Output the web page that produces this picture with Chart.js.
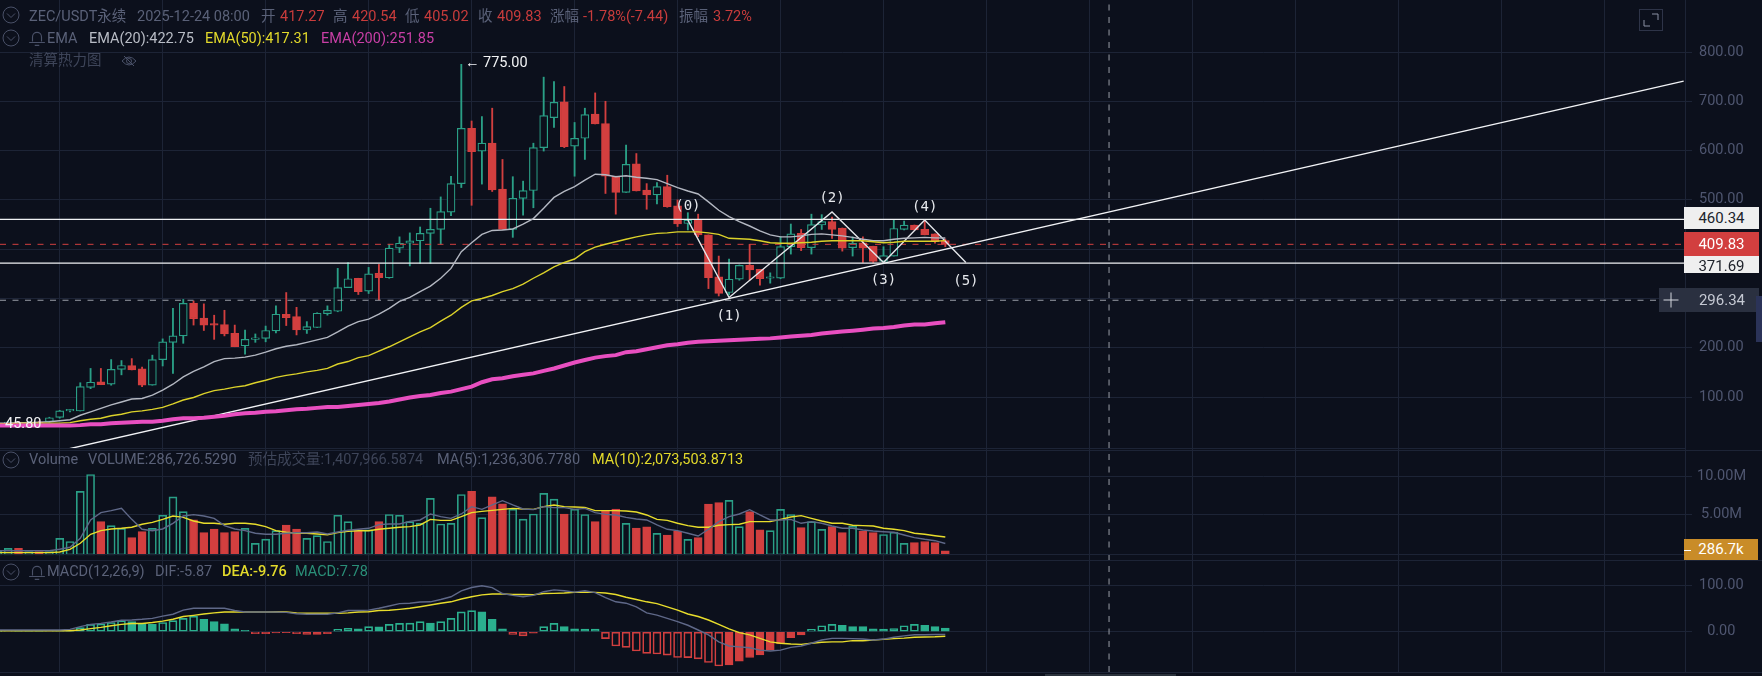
<!DOCTYPE html>
<html>
<head>
<meta charset="utf-8">
<title>ZEC/USDT</title>
<script src="https://cdn.jsdelivr.net/npm/chart.js@4"></script>
<style>
html, body { margin: 0; padding: 0; background: #0c101c; }
body { position: relative; width: 1762px; height: 676px; overflow: hidden; font-family: Roboto, "Noto Sans CJK SC", sans-serif; font-size: 14.5px; }
canvas { position: absolute; left: 0; }
#priceChart { top: 0; }
#volumeChart { top: 448px; }
#macdChart { top: 560px; }
.t { position: absolute; white-space: nowrap; line-height: 18px; color: #5a6178; }
.r { color: #c93c3c; }
.y { color: #e3da2b; }
.box { position: absolute; text-align: center; font-size: 15px; }
.sep { position: absolute; left: 0; height: 1px; background: #1d2436; }
svg { position: absolute; fill: none; stroke: #4a5168; }
</style>
</head>
<body>
<canvas id="priceChart" width="1762" height="448"></canvas>
<canvas id="volumeChart" width="1762" height="112"></canvas>
<canvas id="macdChart" width="1762" height="112"></canvas>

<div class="sep" style="top:448px;width:1685px"></div>
<div class="sep" style="top:450px;width:1762px"></div>
<div class="sep" style="top:554px;width:1690px"></div>
<div class="sep" style="top:560px;width:1762px"></div>
<div class="sep" style="top:672px;width:1762px"></div>
<div style="position:absolute;left:1045px;top:674px;width:131px;height:2px;background:#2b323c"></div>

<svg style="left:2px;top:6px" width="18" height="18" viewBox="0 0 18 18"><circle cx="9" cy="9" r="8"/><path d="M5 7.5 L9 11.5 L13 7.5"/></svg>
<span class="t" style="left:29px;top:8px">ZEC/USDT永续</span>
<span class="t" style="left:137px;top:8px">2025-12-24 08:00</span>
<span class="t" style="left:261px;top:8px">开</span><span class="t r" style="left:280px;top:8px">417.27</span>
<span class="t" style="left:333px;top:8px">高</span><span class="t r" style="left:352px;top:8px">420.54</span>
<span class="t" style="left:405px;top:8px">低</span><span class="t r" style="left:424px;top:8px">405.02</span>
<span class="t" style="left:478px;top:8px">收</span><span class="t r" style="left:497px;top:8px">409.83</span>
<span class="t" style="left:550px;top:8px">涨幅</span><span class="t r" style="left:583px;top:8px">-1.78%(-7.44)</span>
<span class="t" style="left:679px;top:8px">振幅</span><span class="t r" style="left:713px;top:8px">3.72%</span>

<svg style="left:2px;top:29px" width="18" height="18" viewBox="0 0 18 18"><circle cx="9" cy="9" r="8"/><path d="M5 7.5 L9 11.5 L13 7.5"/></svg>
<svg style="left:28px;top:29px" width="18" height="18" viewBox="0 0 16 16"><path d="M4 11 V7 a4 4 0 0 1 8 0 V11 M1 12 H15 M6 14.5 H10"/></svg>
<span class="t" style="left:47px;top:30px">EMA</span>
<span class="t" style="left:89px;top:30px;color:#b9bdc6">EMA(20):422.75</span>
<span class="t y" style="left:205px;top:30px">EMA(50):417.31</span>
<span class="t" style="left:321px;top:30px;color:#c93fa6">EMA(200):251.85</span>
<span class="t" style="left:29px;top:52px;color:#3e4559">清算热力图</span>
<svg style="left:121px;top:54px" width="16" height="14" viewBox="0 0 16 14"><path d="M1 7 Q8 -1 15 7 Q8 15 1 7 Z M3 2 L13 12"/><circle cx="8" cy="7" r="2.5"/></svg>

<svg style="left:2px;top:451px" width="18" height="18" viewBox="0 0 18 18"><circle cx="9" cy="9" r="8"/><path d="M5 7.5 L9 11.5 L13 7.5"/></svg>
<span class="t" style="left:29px;top:451px">Volume</span>
<span class="t" style="left:88px;top:451px">VOLUME:286,726.5290</span>
<span class="t" style="left:248px;top:451px;color:#3e4559">预估成交量:1,407,966.5874</span>
<span class="t" style="left:437px;top:451px">MA(5):1,236,306.7780</span>
<span class="t y" style="left:592px;top:451px">MA(10):2,073,503.8713</span>

<svg style="left:2px;top:563px" width="18" height="18" viewBox="0 0 18 18"><circle cx="9" cy="9" r="8"/><path d="M5 7.5 L9 11.5 L13 7.5"/></svg>
<svg style="left:28px;top:563px" width="18" height="18" viewBox="0 0 16 16"><path d="M4 11 V7 a4 4 0 0 1 8 0 V11 M1 12 H15 M6 14.5 H10"/></svg>
<span class="t" style="left:47px;top:563px">MACD(12,26,9)</span>
<span class="t" style="left:155px;top:563px">DIF:-5.87</span>
<span class="t y" style="left:222px;top:563px;font-weight:500">DEA:-9.76</span>
<span class="t" style="left:295px;top:563px;color:#2a8f78">MACD:7.78</span>

<svg style="left:1639px;top:9px" width="24" height="22" viewBox="0 0 24 22"><rect x="0.5" y="0.5" width="23" height="21" stroke="#2e3448"/><path d="M13 5 H19 V11 M5 11 V17 H11" stroke="#8a90a3"/></svg>

<div class="box" style="left:1684px;top:207px;width:75px;height:22px;line-height:23px;background:#efefef;color:#20232b">460.34</div>
<div class="box" style="left:1684px;top:256px;width:75px;height:17px;line-height:20px;background:#efefef;color:#20232b">371.69</div>
<div class="box" style="left:1684px;top:232px;width:75px;height:24px;line-height:24px;background:#d23f3f;color:#fff">409.83</div>
<div class="box" style="left:1659px;top:288px;width:100px;height:24px;line-height:25px;background:#2a3040;color:#c5c9d3;padding-left:26px;box-sizing:border-box">296.34</div>
<svg style="left:1663px;top:292px" width="16" height="16" viewBox="0 0 16 16"><path d="M0.5 8 H15.5 M8 0.5 V15.5" stroke="#d5d8df"/></svg>
<div class="box" style="left:1684px;top:539px;width:74px;height:21px;line-height:21px;background:#c98c28;color:#fff">286.7k</div>
<div style="position:absolute;left:1684px;top:550px;width:7px;height:1px;background:#fff"></div>
<div style="position:absolute;left:1756px;top:296px;width:6px;height:46px;background:#2b3358"></div>

<script>
// candles, oldest first
const candleOpen = [
  46, 47, 49, 47.5, 49, 50, 58.7, 72, 71.6, 119.6,
  131, 126, 156, 164, 157, 124, 176, 211, 224, 290,
  260, 249, 247, 229, 204, 217, 219, 234, 268, 263,
  236, 241, 269, 274, 322, 341, 315, 351, 342, 402,
  412, 417, 432, 440, 475, 533, 645, 599, 615, 522,
  440, 503, 519, 606, 667, 699, 609, 625, 674, 655,
  548, 515, 573, 520, 510, 527, 488, 452, 460, 429,
  344, 312, 339, 367, 359, 341, 341, 405, 432, 403,
  449, 456, 443, 403, 413, 406, 375, 386, 440, 449,
  440, 431, 417.27
];
const candleHigh = [
  48, 50, 50, 50, 51, 59, 73, 75, 129, 158,
  158, 176, 174, 178, 161, 185, 218, 280, 298, 295,
  289, 266, 276, 246, 236, 228, 244, 285, 312, 282,
  253, 271, 285, 361, 373, 341, 363, 369, 410, 425,
  433, 445, 483, 506, 548, 775, 660, 669, 686, 582,
  547, 538, 615, 749, 740, 730, 657, 686, 717, 700,
  548, 611, 594, 533, 535, 550, 500, 474, 471, 429,
  386, 380, 368, 410, 359, 352, 425, 451, 440, 471,
  470, 465, 443, 425, 425, 406, 405, 460, 457, 449,
  458, 431, 420.54
];
const candleLow = [
  45.9, 46, 47, 45.8, 47, 49, 57, 70, 71.6, 117,
  125, 124, 145, 155, 121, 124, 163, 148, 209, 246,
  235, 217, 224, 202, 187, 211, 212, 230, 245, 226,
  229, 241, 266, 273, 322, 308, 310, 297, 341, 393,
  366, 371, 371, 410, 468, 525, 489, 532, 517, 440,
  424, 469, 484, 599, 647, 606, 548, 582, 654, 513,
  471, 515, 518, 481, 492, 485, 446, 439, 425, 320,
  305, 307, 337, 337, 327, 331, 340, 390, 397, 390,
  440, 422, 396, 386, 373, 373, 371, 386, 439, 439,
  429, 412, 405.02
];
const candleClose = [
  47, 49, 47.5, 49, 48, 58, 72, 75, 121, 130,
  125, 156, 164, 155, 124, 176, 212, 224, 290, 259,
  246, 246, 228, 202, 217, 220, 235, 268, 261, 236,
  243, 270, 276, 322, 340, 314, 350, 342, 402, 412,
  417, 432, 440, 476, 533, 645, 598, 615, 520, 440,
  503, 519, 606, 671, 698, 608, 625, 673, 654, 548,
  515, 572, 518, 510, 527, 486, 451, 459, 429, 342,
  310, 339, 367, 358, 340, 344, 405, 431, 403, 450,
  456, 440, 402, 412, 402, 375, 387, 442, 449, 439,
  429, 415, 409.83
];

const ema20 = [
  47, 47, 48, 48, 49, 50, 52, 54, 63, 70,
  77, 84, 90, 96, 97, 104, 114, 126, 141, 152,
  161, 172, 178, 179, 181, 185, 191, 198, 203, 206,
  211, 216, 221, 232, 244, 253, 258, 268, 280, 294,
  302, 314, 325, 341, 361, 395, 413, 430, 438, 439,
  441, 451, 462, 483, 505, 517, 527, 540, 552, 551,
  547, 549, 546, 544, 541, 533, 525, 518, 512, 496,
  479, 466, 456, 447, 437, 429, 425, 425, 427, 430,
  431, 429, 427, 424, 420, 417, 417, 420, 422, 423,
  424, 423, 422.75
];
const ema50 = [
  46, 46, 47, 47, 47, 47, 47, 48, 52, 55,
  57, 62, 65, 70, 72, 75, 79, 86, 94, 99,
  107, 113, 116, 120, 123, 129, 134, 140, 144, 147,
  151, 154, 158, 167, 172, 180, 184, 193, 202, 212,
  222, 232, 241, 254, 266, 282, 295, 300, 306, 314,
  320, 329, 341, 352, 364, 373, 380, 395, 404, 410,
  415, 420, 425, 429, 432, 433, 435, 435, 435, 433,
  430, 422, 421, 420, 417, 413, 412, 412, 413, 414,
  416, 417, 417, 417, 417, 415, 413, 414, 416, 416,
  416, 416, 417.31
];
const ema200 = [
  42, 42, 42, 42, 42, 42, 42, 42, 43, 45,
  45, 47, 48, 49, 50, 50, 52, 55, 57, 57,
  58, 60, 62, 65, 67, 68, 70, 71, 73, 75,
  76, 78, 80, 80, 82, 84, 86, 88, 91, 95,
  99, 102, 104, 108, 111, 116, 121, 130, 136, 138,
  142, 145, 148, 153, 158, 164, 170, 175, 180, 183,
  185, 191, 193, 197, 201, 205, 207, 210, 212, 213,
  214, 215, 216, 217, 218, 219, 221, 223, 224.5, 226,
  229, 231, 233, 234.6, 236.6, 239, 240, 242, 245, 247,
  247.4, 249.5, 251.85
];

// volume in millions
const volumeM = [
  0.3, 0.6, 0.6, 0.17, 0.17, 0.17, 1.9, 1.5, 8.0, 10.2,
  4.07, 3.55, 3.2, 2.0, 2.77, 3.2, 4.9, 7.3, 5.37, 4.3,
  2.64, 3.1, 2.64, 2.77, 3.2, 1.26, 1.8, 2.9, 3.64, 3.1,
  1.9, 2.25, 1.5, 4.9, 4.07, 3.0, 3.0, 4.07, 5.0, 4.9,
  4.07, 3.85, 7.1, 3.77, 3.85, 7.6, 8.0, 4.6, 7.3, 6.4,
  5.7, 4.4, 5.07, 7.75, 7.0, 5.07, 5.7, 5.0, 4.07, 5.46,
  5.7, 3.85, 3.25, 3.4, 2.56, 2.34, 2.86, 1.78, 2.0, 6.37,
  6.54, 6.84, 3.42, 5.37, 3.0, 2.9, 5.67, 5.0, 3.3, 4.07,
  3.07, 3.42, 2.64, 3.5, 2.8, 2.64, 2.4, 2.7, 1.26, 1.34,
  1.5, 1.34, 0.287
];
const volumeMa5 = [
  0.3, 0.3, 0.3, 0.3, 0.3, 0.3, 0.48, 0.74, 1.91, 4.29,
  5.24, 5.5, 5.8, 4.37, 3.08, 2.9, 3.12, 3.86, 4.81, 4.98,
  4.81, 4.5, 3.55, 3.12, 2.9, 2.56, 2.43, 2.43, 2.56, 2.64,
  2.64, 2.73, 2.47, 2.73, 2.95, 3.08, 3.21, 3.68, 3.77, 3.77,
  4.11, 4.29, 5.07, 4.72, 4.5, 5.07, 6.02, 5.67, 6.24, 6.8,
  6.24, 5.72, 5.63, 6.02, 5.89, 5.89, 5.67, 5.8, 5.24, 5.02,
  4.94, 4.63, 4.42, 4.29, 3.64, 3.08, 2.9, 2.56, 2.21, 3.08,
  4.07, 4.72, 5.07, 5.63, 4.94, 4.29, 4.29, 4.37, 3.86, 4.07,
  3.86, 3.51, 3.21, 3.21, 2.99, 2.86, 2.77, 2.69, 2.34, 2.0,
  1.78, 1.6, 1.236
];
const volumeMa10 = [
  0.05, 0.05, 0.05, 0.05, 0.05, 0.05, 0.13, 0.48, 1.26, 2.43,
  2.9, 3.12, 3.21, 3.34, 3.73, 3.98, 4.37, 4.81, 4.63, 4.16,
  3.86, 3.86, 3.73, 3.86, 3.86, 3.73, 3.42, 2.9, 2.69, 2.56,
  2.56, 2.47, 2.38, 2.64, 2.82, 2.9, 2.9, 3.08, 3.21, 3.34,
  3.42, 3.64, 4.37, 4.24, 4.24, 4.72, 5.24, 5.41, 5.54, 5.67,
  5.8, 5.72, 5.67, 6.02, 6.24, 6.02, 5.98, 5.93, 5.5, 5.5,
  5.5, 5.46, 5.33, 4.94, 4.37, 4.24, 3.86, 3.55, 3.34, 3.34,
  3.6, 3.68, 3.73, 4.07, 4.07, 4.07, 4.37, 4.68, 4.85, 4.5,
  4.16, 3.86, 3.86, 3.6, 3.55, 3.51, 3.21, 3.08, 2.9, 2.56,
  2.43, 2.25, 2.074
];

const macdHist = [
  0.5, 1, 1, 1, 1, 1.5, 2, 3.7, 9, 16,
  17, 20, 24, 22, 17.5, 16, 20, 24, 29, 34,
  27, 22, 17, 6, 3, -4, -4, -2.5, -2, -4,
  -6, -6, -4, 5, 7.5, 6.5, 11, 10.5, 16, 18,
  18.5, 22, 19, 22, 29, 43, 46, 43, 27, 6,
  -5.7, -9, -3, 11, 18, 11, 6, 5.8, 5.5, -15,
  -31, -34, -42, -47, -48.5, -51, -56, -56.5, -59, -67,
  -74.6, -72, -64, -56, -50.7, -40, -26.8, -13, -7, 5,
  13, 16, 14, 11, 11, 6, 5.8, 7, 13, 16,
  14, 11, 7.78
];
const macdDif = [
  3.7, 3.7, 3.7, 3.7, 3.7, 3.7, 3.7, 5, 11, 16,
  18, 21, 25, 25.5, 27, 29, 34, 38, 47, 51,
  51, 51, 51, 46, 43, 43, 43, 43, 42, 39,
  38, 38, 38, 41, 46, 46, 47, 51, 56, 61,
  62, 64.5, 65, 70, 76, 89, 96, 100, 96, 83,
  79, 76, 79, 87, 91, 89, 86, 89, 85, 74,
  65, 62, 54, 41, 36, 29, 22, 14, 3.7, -7,
  -22, -31, -33, -35, -40, -42, -40, -34, -31, -25,
  -18, -14.4, -14.4, -15, -16, -18, -16, -12, -9, -6.5,
  -6.5, -6, -5.87
];
const macdDea = [
  2, 2, 2, 2, 2, 2, 2, 2, 3.7, 6.6,
  9.5, 13, 16, 18, 18, 20, 23, 27, 33, 35.6,
  38.5, 41, 43, 43, 43, 43, 43, 43.5, 43, 41,
  40, 40, 40, 40, 41, 43, 43.5, 46, 46.5, 48.6,
  51, 54.4, 58, 62, 65, 71, 76, 80, 82, 82,
  81, 81, 80.5, 83, 83.4, 84, 85.6, 86, 85.6, 84,
  81, 75, 70, 65, 61, 54, 47, 38.5, 33, 25.4,
  16, 6, -2, -7, -14.4, -22, -25, -26.8, -27.5, -25,
  -23, -22, -22, -19.5, -19.5, -18, -16.6, -15, -14, -12,
  -11.5, -11, -9.76
];

// drawn lines and levels, x is the candle slot, y the price
const waveX = [67, 71, 81, 86, 90, 94];
const waveY = [459, 302, 475.4, 373, 459, 373];
const waveNames = ['(0)', '(1)', '(2)', '(3)', '(4)', '(5)'];
const waveNameY = [487.7, 264, 503.8, 337.4, 485.6, 335.4];
const trendX = [6.8, 163.7];
const trendY = [-5.5, 741];
const levelHigh = 460.34;
const levelLow = 371.69;
const lastClose = 409.83;
const crossPrice = 296.34;
const crossSlot = 107.9;

const priceTicks = [100, 200, 300, 400, 500, 600, 700, 800];
const volumeTicks = [5, 10];
const macdTicks = [0, 100];
const gridSlots = [6, 16, 26, 36, 46, 56, 66, 76, 86, 96, 106, 116, 126, 136, 146, 156];

const BG = '#0c101c';
const GRID = '#1d2436';
const GREEN = '#2a9f86';
const GREEN_SOLID = '#2bb08e';
const RED = '#d23f3f';
const YELLOW = '#e8dd2c';
const TICK = '#4f5670';
const X_MIN = 0.204;
const X_MAX = 163.83;

const slots = candleClose.map((_, i) => i);
const isUp = i => candleClose[i] >= candleOpen[i];
const pts = (xs, ys) => xs.map((x, i) => ({ x: x, y: ys[i] }));
const seriesPts = ys => ys.map((y, i) => ({ x: i, y: y }));

function line(data, color, width, extra) {
    return Object.assign({
        type: 'line', data: data, borderColor: color, borderWidth: width,
        pointRadius: 0, tension: 0, order: 1
    }, extra || {});
}

function crossLine(yMin, yMax) {
    return line(pts([crossSlot, crossSlot], [yMin, yMax]), '#9a9ea8', 1, { borderDash: [6, 6.5] });
}

function scales(yMin, yMax, ticks, fmt, pad) {
    return {
        x: {
            type: 'linear', min: X_MIN, max: X_MAX, offset: false,
            border: { display: false },
            grid: { color: GRID, drawTicks: false, offset: false },
            ticks: { display: false },
            afterBuildTicks: s => { s.ticks = gridSlots.map(v => ({ value: v })); },
            afterFit: s => { s.height = 0; s.paddingLeft = 0; s.paddingRight = 0; }
        },
        y: {
            position: 'right', min: yMin, max: yMax,
            border: { color: GRID },
            grid: { color: GRID, tickColor: GRID, tickLength: 7 },
            ticks: {
                color: TICK, padding: pad, crossAlign: 'center',
                font: { family: 'Roboto', size: 14.5 },
                callback: fmt
            },
            afterBuildTicks: s => { s.ticks = ticks.map(v => ({ value: v })); },
            afterFit: s => { s.width = 77; s.paddingTop = 0; s.paddingBottom = 0; }
        }
    };
}

function baseOptions(sc) {
    return {
        responsive: false, animation: false, devicePixelRatio: 1,
        events: [],
        layout: { padding: 0 },
        plugins: { legend: { display: false }, tooltip: { enabled: false } },
        scales: sc
    };
}

// text that sits on the price chart itself
const priceNotes = {
    id: 'priceNotes',
    afterDatasetsDraw(chart) {
        const { ctx, scales: { x, y } } = chart;
        ctx.save();
        ctx.fillStyle = '#e6e8ec';
        ctx.font = '14px "DejaVu Sans Mono"';
        ctx.textAlign = 'center';
        ctx.textBaseline = 'middle';
        waveNames.forEach((name, i) => {
            ctx.fillText(name, x.getPixelForValue(waveX[i]), y.getPixelForValue(waveNameY[i]));
        });
        ctx.textAlign = 'left';
        ctx.fillStyle = '#f2f3f5';
        ctx.font = '14.5px Roboto';
        ctx.fillText('← 775.00', x.getPixelForValue(45.35), y.getPixelForValue(775) - 1);
        ctx.fillText('45.80', x.getPixelForValue(0.69), y.getPixelForValue(44));
        ctx.restore();
    }
};

new Chart(document.getElementById('priceChart'), {
    type: 'bar',
    data: {
        datasets: [
            {
                data: slots.map(i => ({ x: i, y: [candleLow[i], candleHigh[i]] })),
                backgroundColor: c => isUp(c.dataIndex) ? GREEN : RED,
                barThickness: 1.2, grouped: false, order: 10
            },
            {
                data: slots.map(i => ({ x: i, y: [candleOpen[i], candleClose[i]] })),
                backgroundColor: c => isUp(c.dataIndex) ? BG : RED,
                borderColor: c => isUp(c.dataIndex) ? GREEN : RED,
                borderWidth: 1.2, borderSkipped: false,
                barThickness: 8, grouped: false, order: 9
            },
            line(seriesPts(ema200), '#e84fc0', 4),
            line(seriesPts(ema50), '#dcd22a', 1.4),
            line(seriesPts(ema20), '#b4b8c2', 1.4),
            line(pts(waveX, waveY), '#e4e6ea', 1.4),
            line(pts(trendX, trendY), '#f2f3f6', 1.4),
            line(pts([X_MIN, X_MAX], [levelHigh, levelHigh]), '#f0f1f3', 1.4),
            line(pts([X_MIN, X_MAX], [levelLow, levelLow]), '#f0f1f3', 1.4),
            line(pts([X_MIN, X_MAX + 1], [lastClose, lastClose]), '#d23f3f', 1, { borderDash: [6, 6.5] }),
            line(pts([X_MIN, 161.3], [crossPrice, crossPrice]), '#9a9ea8', 1, { borderDash: [6, 6.5] }),
            crossLine(-3.4, 905.5)
        ]
    },
    options: baseOptions(scales(-3.4, 905.5, priceTicks, v => v.toFixed(2), 7)),
    plugins: [priceNotes]
});

new Chart(document.getElementById('volumeChart'), {
    type: 'bar',
    data: {
        datasets: [
            {
                data: slots.map(i => ({ x: i, y: volumeM[i] })),
                base: -0.26,
                backgroundColor: c => isUp(c.dataIndex) ? 'transparent' : RED,
                borderColor: c => isUp(c.dataIndex) ? GREEN : RED,
                borderWidth: 1, borderSkipped: false,
                barThickness: 8, grouped: false, order: 5
            },
            line(seriesPts(volumeMa5), '#5f6888', 1.4),
            line(seriesPts(volumeMa10), '#e8dd2c', 1.4),
            crossLine(-0.909, 13.64)
        ]
    },
    options: baseOptions(scales(-0.909, 13.64, volumeTicks, v => v.toFixed(2) + 'M', 5))
});

function histHollow(i) {
    const prev = i > 0 ? macdHist[i - 1] : 0;
    return macdHist[i] >= 0 ? macdHist[i] > prev : macdHist[i] < prev;
}

new Chart(document.getElementById('macdChart'), {
    type: 'bar',
    data: {
        datasets: [
            {
                data: slots.map(i => ({ x: i, y: macdHist[i] })),
                backgroundColor: c => histHollow(c.dataIndex) ? 'transparent' : (macdHist[c.dataIndex] >= 0 ? GREEN_SOLID : RED),
                borderColor: c => macdHist[c.dataIndex] >= 0 ? GREEN_SOLID : RED,
                borderWidth: 1, borderSkipped: false,
                barThickness: 8, grouped: false, order: 5
            },
            line(seriesPts(macdDif), '#5f6888', 1.4),
            line(seriesPts(macdDea), YELLOW, 1.4),
            crossLine(-87.6, 155.9)
        ]
    },
    options: baseOptions(scales(-87.6, 155.9, macdTicks, v => v.toFixed(2), 7))
});
</script>
</body>
</html>
